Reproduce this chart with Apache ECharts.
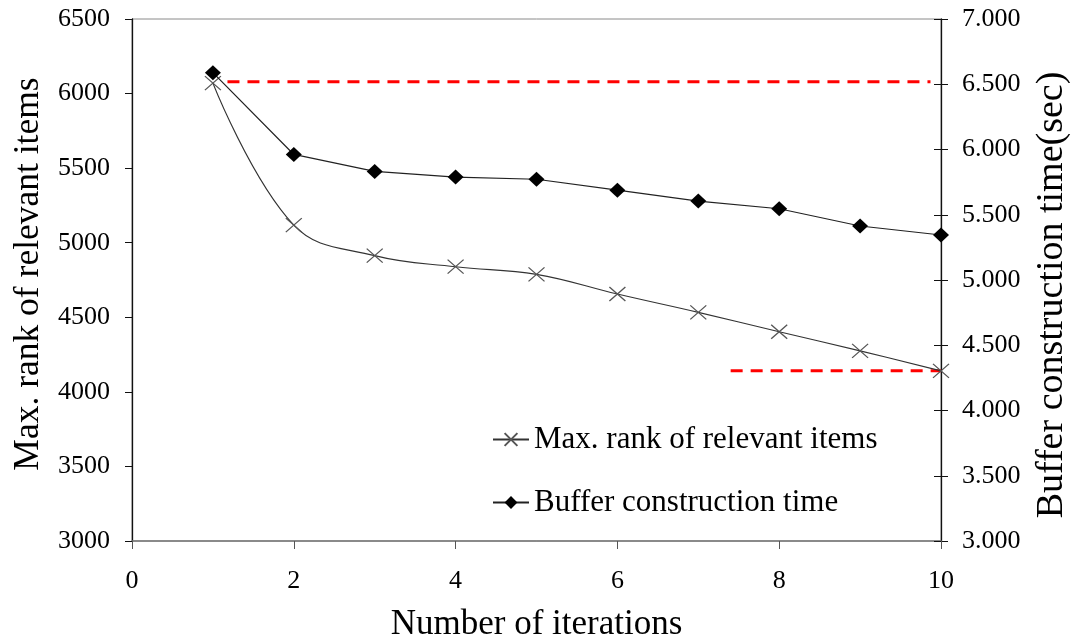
<!DOCTYPE html>
<html>
<head>
<meta charset="utf-8">
<script src="https://cdn.jsdelivr.net/npm/echarts@6/dist/echarts.min.js"></script>
<style>
html,body{margin:0;padding:0;background:#fff;}
#chart{width:1074px;height:641px;}
</style>
</head>
<body>
<div id="chart"></div>
<script>
const iterations = [1, 2, 3, 4, 5, 6, 7, 8, 9, 10];
const maxRank = [6070, 5118, 4913, 4839, 4788, 4656, 4533, 4403, 4275, 4141];
const bufferTime = [6.589, 5.962, 5.832, 5.789, 5.772, 5.688, 5.605, 5.546, 5.414, 5.345];
const upperRefX = [1.18, 9.87];
const upperRefY = [6.52, 6.52];
const lowerRefX = [7.4, 10];
const lowerRefY = [4.305, 4.305];
const xTicks = [0, 2, 4, 6, 8, 10];
const leftTicks = [3000, 3500, 4000, 4500, 5000, 5500, 6000, 6500];
const rightTicks = [3, 3.5, 4, 4.5, 5, 5.5, 6, 6.5, 7];

const FONT = "'Liberation Serif', 'Times New Roman', serif";
const zip = (a, b) => a.map((v, i) => [v, b[i]]);

const chart = echarts.init(document.getElementById('chart'), null, {renderer: 'canvas'});
chart.setOption({
  animation: false,
  backgroundColor: '#fff',
  textStyle: {fontFamily: FONT, color: '#000'},
  grid: {left: 132, right: 133, top: 19, bottom: 100, show: true, borderColor: '#8a8a8a', borderWidth: 1,
         containLabel: false, outerBoundsMode: 'none'},
  legend: {
    orient: 'vertical', left: 487, top: 419, itemWidth: 36, itemHeight: 16, itemGap: 32,
    textStyle: {fontFamily: FONT, fontSize: 31, color: '#000'},
    data: ['Max. rank of relevant items', 'Buffer construction time']
  },
  xAxis: {
    type: 'value', min: xTicks[0], max: xTicks[xTicks.length - 1], interval: 2,
    name: 'Number of iterations', nameLocation: 'middle', nameGap: 66,
    nameTextStyle: {fontFamily: FONT, fontSize: 35, color: '#000'},
    axisLine: {show: true, lineStyle: {color: '#777', width: 1.5}},
    axisTick: {show: true, length: 8, lineStyle: {color: '#555', width: 1}},
    axisLabel: {fontFamily: FONT, fontSize: 26, color: '#000', margin: 27},
    splitLine: {show: false}
  },
  yAxis: [
    {
      type: 'value', position: 'left', min: leftTicks[0], max: leftTicks[leftTicks.length - 1], interval: 500,
      name: 'Max. rank of relevant items', nameLocation: 'middle', nameGap: 84, nameRotate: 90,
      nameTextStyle: {fontFamily: FONT, fontSize: 35.5, color: '#000', padding: [0, 0, 0, 12]},
      axisLine: {show: true, lineStyle: {color: '#111', width: 1.3}},
      axisTick: {show: true, length: 7, lineStyle: {color: '#111', width: 1}},
      axisLabel: {fontFamily: FONT, fontSize: 26, color: '#000', margin: 22, formatter: v => String(v)},
      splitLine: {show: false}
    },
    {
      type: 'value', position: 'right', min: rightTicks[0], max: rightTicks[rightTicks.length - 1], interval: 0.5,
      name: 'Buffer construction time(sec)', nameLocation: 'middle', nameGap: 92, nameRotate: 90,
      nameTextStyle: {fontFamily: FONT, fontSize: 38, color: '#000', padding: [0, 30, 0, 0]},
      axisLine: {show: true, lineStyle: {color: '#111', width: 1.3}},
      axisTick: {show: true, length: 7, lineStyle: {color: '#111', width: 1}},
      axisLabel: {fontFamily: FONT, fontSize: 26, color: '#000', margin: 21, formatter: v => v.toFixed(3)},
      splitLine: {show: false}
    },
    {
      type: 'value', position: 'right', min: rightTicks[0], max: rightTicks[rightTicks.length - 1], interval: 0.5,
      axisLine: {show: false},
      axisTick: {show: true, inside: true, length: 7, lineStyle: {color: '#111', width: 1}},
      axisLabel: {show: false},
      splitLine: {show: false}
    }
  ],
  series: [
    {
      name: 'Max. rank of relevant items', type: 'line', yAxisIndex: 0,
      data: zip(iterations, maxRank), smooth: 0.4,
      symbol: 'path://M0,0L16,14M16,0L0,14', symbolSize: [16, 14],
      itemStyle: {color: 'rgba(0,0,0,0)', borderColor: '#555', borderWidth: 1.2},
      lineStyle: {color: '#333', width: 1.2},
      z: 3
    },
    {
      name: 'Buffer construction time', type: 'line', yAxisIndex: 1,
      data: zip(iterations, bufferTime),
      symbol: 'diamond', symbolSize: [16, 15],
      itemStyle: {color: '#000'},
      lineStyle: {color: '#222', width: 1.2},
      z: 4
    },
    {
      name: 'upperRef', type: 'line', yAxisIndex: 1, data: zip(upperRefX, upperRefY),
      symbol: 'none', lineStyle: {color: '#ff0000', width: 3, type: [12, 8]}, z: 2
    },
    {
      name: 'lowerRef', type: 'line', yAxisIndex: 1, data: zip(lowerRefX, lowerRefY),
      symbol: 'none', lineStyle: {color: '#ff0000', width: 3, type: [12, 8]}, z: 2
    }
  ]
});
</script>
</body>
</html>
